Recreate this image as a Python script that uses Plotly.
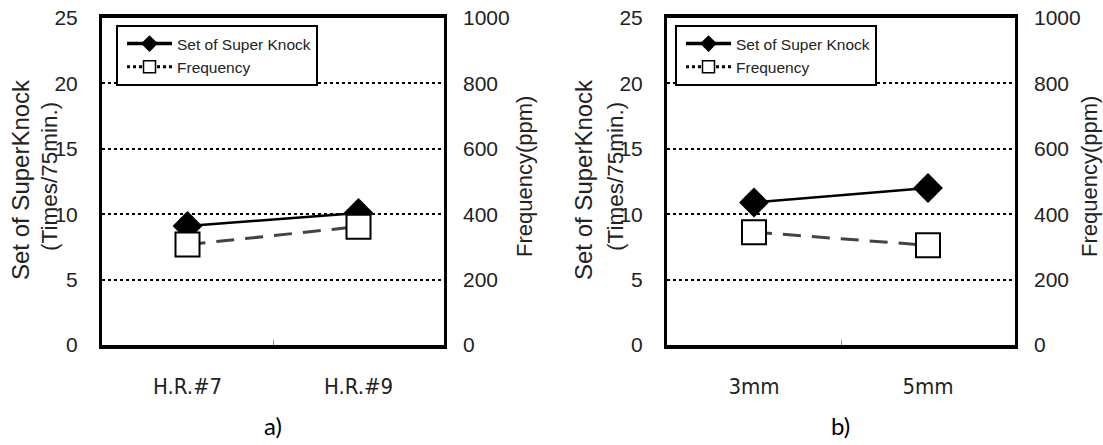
import plotly.graph_objects as go

# ---- data ----
cats_a = ["H.R.#7", "H.R.#9"]
knock_a = [9.1, 10.1]
freq_a = [307, 362]

cats_b = ["3mm", "5mm"]
knock_b = [10.9, 12.0]
freq_b = [345, 305]

left_ticks = [0, 5, 10, 15, 20, 25]
right_ticks = [0, 200, 400, 600, 800, 1000]

W, H = 1103, 445
TXT = "#222222"
FONT = "Liberation Sans, Arial, sans-serif"
NARROW = "DejaVu Sans Condensed, Liberation Sans Narrow, Liberation Sans, sans-serif"

fig = go.Figure()

panels = [
    dict(cats=cats_a, knock=knock_a, freq=freq_a, x="x", y="y", y2="y2", leg="legend"),
    dict(cats=cats_b, knock=knock_b, freq=freq_b, x="x2", y="y3", y2="y4", leg="legend2"),
]

for p in panels:
    fig.add_trace(go.Scatter(
        x=p["cats"], y=p["knock"], xaxis=p["x"], yaxis=p["y"], mode="lines+markers",
        line=dict(color="black", width=2.5),
        marker=dict(symbol="diamond", size=23, color="black"),
        showlegend=False, cliponaxis=False))
    fig.add_trace(go.Scatter(
        x=p["cats"], y=p["freq"], xaxis=p["x"], yaxis=p["y2"], mode="lines+markers",
        line=dict(color="#444444", width=3, dash="18px,11px"),
        marker=dict(symbol="square", size=24, color="white", line=dict(color="black", width=2)),
        showlegend=False, cliponaxis=False))
    # legend entries
    fig.add_trace(go.Scatter(
        x=[None], y=[None], xaxis=p["x"], yaxis=p["y"], mode="lines+markers",
        name="Set of Super Knock", legend=p["leg"],
        line=dict(color="black", width=3.5),
        marker=dict(symbol="diamond", size=13, color="black")))
    fig.add_trace(go.Scatter(
        x=[None], y=[None], xaxis=p["x"], yaxis=p["y"], mode="lines+markers",
        name="Frequency", legend=p["leg"],
        line=dict(color="black", width=3, dash="dot"),
        marker=dict(symbol="square", size=12, color="white", line=dict(color="black", width=1.5))))

ydom = [1 - 345 / H, 1 - 18 / H]
xdoms = [[102 / W, 444 / W], [667 / W, 1015 / W]]

def xax(dom, cats):
    return dict(domain=dom, type="category", categoryorder="array", categoryarray=cats,
                range=[-0.5, 1.5], showline=True, linecolor="black", linewidth=3.5, mirror=True,
                showgrid=False, zeroline=False, tickson="boundaries", ticks="inside", ticklen=5,
                tickcolor="#888888", tickwidth=1, automargin=False,
                tickfont=dict(family=NARROW, size=22, color=TXT), ticklabelstandoff=19)

def yax_left(anchor):
    return dict(domain=ydom, anchor=anchor, range=[0, 25], tickvals=left_ticks,
                showline=True, linecolor="black", linewidth=3, mirror=True,
                showgrid=True, gridcolor="black", gridwidth=2, griddash="dot",
                zeroline=False, ticks="", ticklabelstandoff=17, automargin=False,
                tickfont=dict(family=FONT, size=21, color=TXT))

def yax_right(anchor, overlay):
    return dict(domain=ydom, anchor=anchor, overlaying=overlay, side="right", range=[0, 1000],
                tickvals=right_ticks, showgrid=False, zeroline=False, showline=False,
                ticks="", ticklabelstandoff=18, automargin=False,
                tickfont=dict(family=FONT, size=21, color=TXT))

legend_common = dict(y=1 - 25 / H, xanchor="left", yanchor="top",
                     bgcolor="white", bordercolor="black", borderwidth=2,
                     font=dict(family=FONT, size=15.5, color=TXT), tracegroupgap=0,
                     itemwidth=45, indentation=4)

fig.update_layout(
    width=W, height=H, margin=dict(l=0, r=0, t=0, b=0, autoexpand=False),
    paper_bgcolor="white", plot_bgcolor="white",
    xaxis=xax(xdoms[0], cats_a),
    xaxis2=xax(xdoms[1], cats_b),
    yaxis=yax_left("x"),
    yaxis2=yax_right("x", "y"),
    yaxis3=yax_left("x2"),
    yaxis4=yax_right("x2", "y3"),
    legend=dict(x=116 / W, **legend_common),
    legend2=dict(x=675 / W, **legend_common),
    showlegend=True,
)

ann = []
for (l1, l2, rx) in [(20, 49, 524), (583, 615, 1089)]:
    ann.append(dict(text="Set of SuperKnock", x=l1 / W, y=1 - 180 / H, xref="paper", yref="paper",
                    textangle=-90, showarrow=False, xanchor="center", yanchor="middle",
                    font=dict(family=FONT, size=24, color=TXT)))
    ann.append(dict(text="(Times/75min.)", x=l2 / W, y=1 - 177 / H, xref="paper", yref="paper",
                    textangle=-90, showarrow=False, xanchor="center", yanchor="middle",
                    font=dict(family=FONT, size=22.5, color=TXT)))
    ann.append(dict(text="Frequency(ppm)", x=rx / W, y=1 - 177 / H, xref="paper", yref="paper",
                    textangle=-90, showarrow=False, xanchor="center", yanchor="middle",
                    font=dict(family=FONT, size=22, color=TXT)))
for lab, cx in [("a)", 273), ("b)", 840)]:
    ann.append(dict(text=lab, x=cx / W, y=1 - 425 / H, xref="paper", yref="paper",
                    showarrow=False, xanchor="center", yanchor="middle",
                    font=dict(family="Lato, Open Sans, sans-serif", size=24, color="black")))
fig.update_layout(annotations=ann)

fig.write_html("out.html")
